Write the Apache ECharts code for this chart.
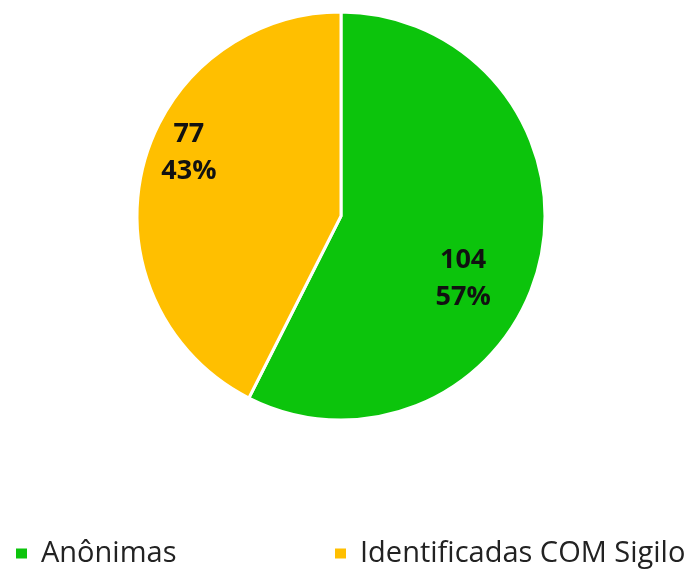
<!DOCTYPE html>
<html>
<head>
<meta charset="utf-8">
<script src="https://cdn.jsdelivr.net/npm/echarts@6/dist/echarts.min.js"></script>
<style>
    html, body { margin: 0; padding: 0; background: #fff; }
    #chart { width: 692px; height: 571px; }
</style>
</head>
<body>
<div id="chart"></div>
<script>
var categories = ['Anônimas', 'Identificadas COM Sigilo'];
var values = [104, 77];
var colors = ['#0cc40c', '#ffbf00'];
// deslocamento dos rótulos em relação à posição "inside"
var labelShift = [[20, 38], [-50, -39]];

var myChart = echarts.init(document.getElementById('chart'));

var legendText = { fontFamily: 'Open Sans', fontSize: 29, color: '#222', padding: [0, 0, 0, 8] };

var option = {
    color: colors,
    legend: [{
        data: [categories[0]],
        left: 14,
        top: 539,
        padding: 0,
        icon: 'rect',
        itemWidth: 13,
        itemHeight: 12,
        textStyle: legendText
    }, {
        data: [categories[1]],
        left: 333,
        top: 539,
        padding: 0,
        icon: 'rect',
        itemWidth: 13,
        itemHeight: 12,
        textStyle: legendText
    }],
    series: [{
        type: 'pie',
        radius: 204,
        center: [341, 216],
        startAngle: 90,
        clockwise: true,
        percentPrecision: 0,
        silent: true,
        itemStyle: { borderColor: '#fff', borderWidth: 3 },
        label: {
            show: true,
            position: 'inside',
            formatter: '{c}\n{d}%',
            fontFamily: 'Open Sans',
            fontWeight: 'bold',
            fontSize: 27,
            lineHeight: 37,
            color: '#111'
        },
        labelLine: { show: false },
        labelLayout: function(params) {
            var s = labelShift[params.dataIndex];
            return { dx: s[0], dy: s[1] };
        },
        data: categories.map(function(name, i) {
            return { name: name, value: values[i] };
        })
    }]
};

myChart.setOption(option);

window.addEventListener('resize', function() {
    myChart.resize();
});
</script>
</body>
</html>
